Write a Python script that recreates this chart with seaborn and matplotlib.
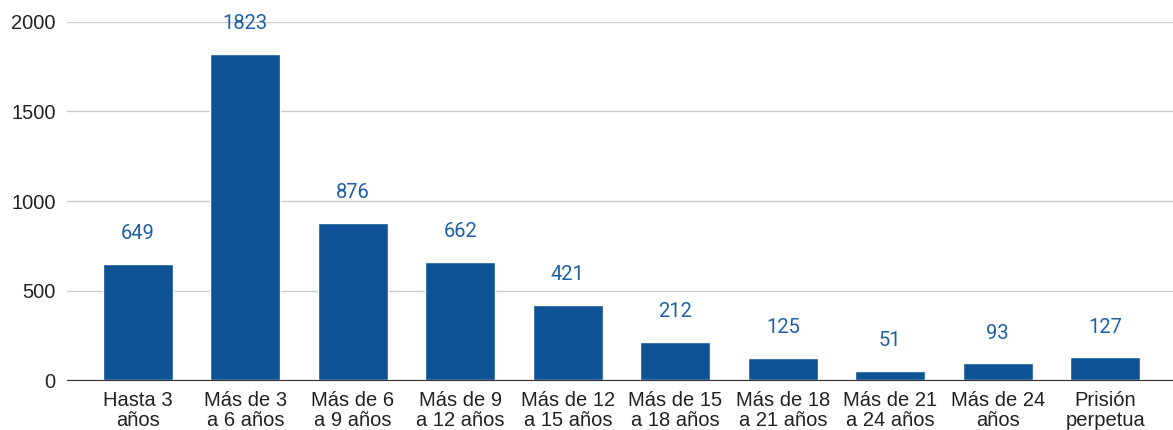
import pandas as pd
import matplotlib
matplotlib.use("Agg")
import matplotlib.pyplot as plt
import seaborn as sns

# Categorías y valores
categorias = [
    "Hasta 3\naños", "Más de 3\na 6 años", "Más de 6\na 9 años", "Más de 9\na 12 años",
    "Más de 12\na 15 años", "Más de 15\na 18 años", "Más de 18\na 21 años",
    "Más de 21\na 24 años", "Más de 24\naños", "Prisión\nperpetua",
]
valores = [649, 1823, 876, 662, 421, 212, 125, 51, 93, 127]
yticks = [0, 500, 1000, 1500, 2000]

sns.set_style("white")
plt.rcParams["font.family"] = ["Liberation Sans", "DejaVu Sans"]

df = pd.DataFrame({"cat": categorias, "val": valores})

fig = plt.figure(figsize=(11.73, 4.30), dpi=100)
ax = fig.add_axes([0.057, 0.116, 0.943, 0.833])

sns.barplot(data=df, x="cat", y="val", color="#0e5396", saturation=1, width=0.65, ax=ax, zorder=3)

for i, v in enumerate(valores):
    ax.annotate(str(v), (i, v), xytext=(0, 15), textcoords="offset points",
                ha="center", va="bottom", color="#1f5fa6", fontsize=14.5,
                family=["Roboto", "DejaVu Sans"])

ax.set_ylim(0, 2000)
ax.set_yticks(yticks)
ax.set_xlim(-0.66, 9.63)
ax.grid(axis="y", color="#cccccc", linewidth=1, zorder=0)
ax.set_xlabel("")
ax.set_ylabel("")
for s in ["top", "right", "left"]:
    ax.spines[s].set_visible(False)
ax.spines["bottom"].set_color("#333333")
ax.spines["bottom"].set_zorder(4)
ax.tick_params(axis="both", length=0, labelsize=14.5, colors="#222222", pad=8)
ax.tick_params(axis="x", pad=8)
for t in ax.get_xticklabels():
    t.set_linespacing(1.05)

fig.savefig("out.png", dpi=100)
